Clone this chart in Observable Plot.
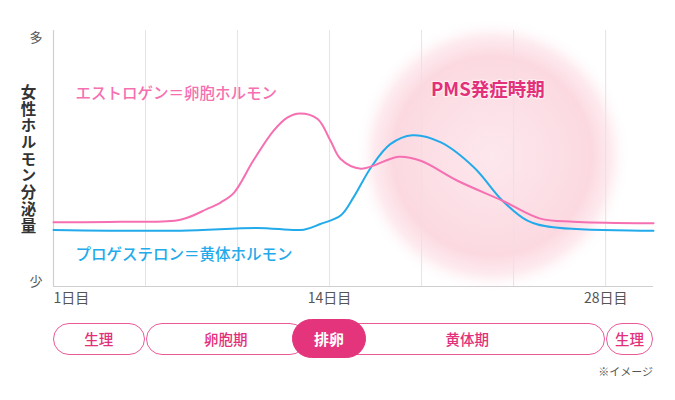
<!DOCTYPE html>
<html><head><meta charset="utf-8">
<script src="https://cdn.jsdelivr.net/npm/d3@7"></script>
<script src="https://cdn.jsdelivr.net/npm/@observablehq/plot@0.6"></script>
<style>
body{margin:0;background:#fff;font-family:"Noto Sans CJK JP","Noto Sans",sans-serif;}
#wrap{position:relative;width:675px;height:400px;overflow:hidden;}
#phases{position:absolute;left:0;top:318px;width:675px;height:82px;}
.pill{position:absolute;box-sizing:border-box;border:1.5px solid #ea5a98;border-radius:16px;background:#fff;color:#e2307a;font-size:14.5px;display:flex;align-items:center;justify-content:center;font-weight:500;line-height:1;}
.pill.main{background:#e3347c;border-color:#e3347c;color:#fff;font-weight:700;border-radius:20px;}
#note{position:absolute;right:22px;top:48px;font-size:11px;color:#555;line-height:1;}
</style></head><body><div id="wrap"></div>
<script>
// ---- data (x in grid units: 0 = day 1, 3 = day 14, 6 = day 28) ----
const estrogenPos   = [0, 0.73, 1.38, 1.67, 1.82, 1.96, 2.17, 2.39, 2.54, 2.68, 2.87, 3.01, 3.12, 3.34, 3.75, 3.99, 4.39, 4.88, 5.29, 5.65, 6.38, 6.52];
const estrogenLevel = [25.1, 25.3, 26.1, 30.3, 32.9, 36.6, 49.1, 60.8, 66.0, 67.6, 65.4, 56.9, 49.8, 46.0, 50.7, 49.1, 41.3, 33.5, 26.5, 25.3, 24.7, 24.7];
const progesteronePos   = [0, 1.38, 2.21, 2.72, 2.90, 3.12, 3.26, 3.45, 3.66, 3.90, 4.21, 4.57, 4.88, 5.15, 5.43, 6.38, 6.52];
const progesteroneLevel = [22.1, 21.8, 22.9, 22.2, 24.4, 27.7, 34.8, 46.5, 55.6, 59.1, 56.3, 46.5, 33.5, 25.7, 23.1, 21.8, 21.8];

const xTicks = [0, 3, 6];
const xTickLabels = ["1日目", "14日目", "28日目"];
const gridLines = [1, 2, 3, 4, 5, 6];
const yTicks = [97, 2];
const yTickLabels = ["多", "少"];
const yAxisTitle = "女性ホルモン分泌量";
const seriesNames = ["エストロゲン＝卵胞ホルモン", "プロゲステロン＝黄体ホルモン"];
const pmsLabel = "PMS発症時期";
const phaseLabels = ["生理", "卵胞期", "黄体期", "生理"];
const phaseStart  = [0, 1, 3, 6];
const phaseEnd    = [1, 2.75, 6, 6.52];
const ovulationLabel = "排卵";
const ovulationAt = 3;
const note = "※イメージ";

const pink = "#f66fb1", blue = "#22aaeb", accent = "#e3307a";
const font = "Noto Sans CJK JP";

const estrogen = estrogenPos.map((x, i) => ({x, y: estrogenLevel[i]}));
const progesterone = progesteronePos.map((x, i) => ({x, y: progesteroneLevel[i]}));
const xTickData = xTicks.map((v, i) => ({v, label: xTickLabels[i]}));
const yTickData = yTicks.map((v, i) => ({v, label: yTickLabels[i]}));

const defs = () => {
  const d = d3.create("svg:defs");
  const g = d.append("radialGradient").attr("id", "pmsGlow");
  g.append("stop").attr("offset", "0%").attr("stop-color", "#fde8ed");
  g.append("stop").attr("offset", "50%").attr("stop-color", "#fcdee5");
  g.append("stop").attr("offset", "72%").attr("stop-color", "#fcd9e1");
  g.append("stop").attr("offset", "86%").attr("stop-color", "#fde6eb").attr("stop-opacity", 0.8);
  g.append("stop").attr("offset", "100%").attr("stop-color", "#ffffff").attr("stop-opacity", 0);
  return d.node();
};

const chart = Plot.plot({
  width: 675,
  height: 318,
  marginLeft: 53,
  marginRight: 22,
  marginTop: 30,
  marginBottom: 32,
  x: {domain: [0, 6.52], axis: null},
  y: {domain: [0, 100], axis: null},
  style: {fontFamily: font, background: "#fff"},
  marks: [
    defs,
    Plot.dot([{x: 4.77, y: 51}], {x: "x", y: "y", r: 138, fill: "url(#pmsGlow)", stroke: "none"}),
    Plot.ruleX(gridLines, {stroke: "#e4e4e4", strokeWidth: 1}),
    Plot.ruleX([0], {stroke: "#cfcfcf", strokeWidth: 1.2}),
    Plot.ruleY([0], {stroke: "#cfcfcf", strokeWidth: 1.2}),
    Plot.text(yTickData, {y: "v", text: "label", frameAnchor: "left", dx: -24, fontSize: 13, fill: "#555"}),
    Plot.text(xTickData.slice(0, 1), {x: "v", text: "label", frameAnchor: "bottom", dy: 16, textAnchor: "start", fontSize: 14, fill: "#555"}),
    Plot.text(xTickData.slice(1), {x: "v", text: "label", frameAnchor: "bottom", dy: 16, fontSize: 14, fill: "#555"}),
    Plot.text([yAxisTitle], {text: d => d, frameAnchor: "left", dx: -25, fontSize: 15.5, fontWeight: 700, fill: "#333"}),
    Plot.line(progesterone, {x: "x", y: "y", stroke: blue, strokeWidth: 2, curve: "catmull-rom"}),
    Plot.line(estrogen, {x: "x", y: "y", stroke: pink, strokeWidth: 2, curve: "catmull-rom"}),
    Plot.text([seriesNames[0]], {x: 0.24, y: 75, text: d => d, textAnchor: "start", fontSize: 15.5, fontWeight: 500, fill: pink}),
    Plot.text([seriesNames[1]], {x: 0.24, y: 12.1, text: d => d, textAnchor: "start", fontSize: 15.5, fontWeight: 500, fill: blue}),
    Plot.text([pmsLabel], {x: 4.72, y: 76.8, text: d => d, fontSize: 18.5, fontWeight: 700, fill: accent, stroke: "#fff", strokeOpacity: 0.5, strokeWidth: 2.5})
  ]
});

// set the y-axis title in vertical writing mode
d3.select(chart).selectAll("text").filter(function() { return this.textContent === yAxisTitle; })
  .attr("dy", "-4")
  .style("writing-mode", "vertical-rl")
  .style("text-orientation", "upright")
  .style("letter-spacing", "1.2px")
  .attr("text-anchor", "middle");

const wrap = document.getElementById("wrap");
wrap.appendChild(chart);
const xs = chart.scale("x");

const phases = document.createElement("div");
phases.id = "phases";
wrap.appendChild(phases);
phaseLabels.forEach((label, i) => {
  const el = document.createElement("div");
  el.className = "pill";
  const left = xs.apply(phaseStart[i]) + (i > 0 ? 1 : 0);
  const right = xs.apply(phaseEnd[i]) - (i < phaseLabels.length - 1 ? 0.5 : 0);
  el.style.left = left + "px";
  el.style.width = (right - left) + "px";
  el.style.top = "5px";
  el.style.height = "32px";
  el.textContent = label;
  phases.appendChild(el);
});
const ov = document.createElement("div");
ov.className = "pill main";
const cx = xs.apply(ovulationAt);
ov.style.left = (cx - 37) + "px";
ov.style.width = "74px";
ov.style.top = "1.3px";
ov.style.height = "39px";
ov.style.fontSize = "15px";
ov.textContent = ovulationLabel;
phases.appendChild(ov);
const n = document.createElement("div");
n.id = "note";
n.textContent = note;
phases.appendChild(n);
</script></body></html>
